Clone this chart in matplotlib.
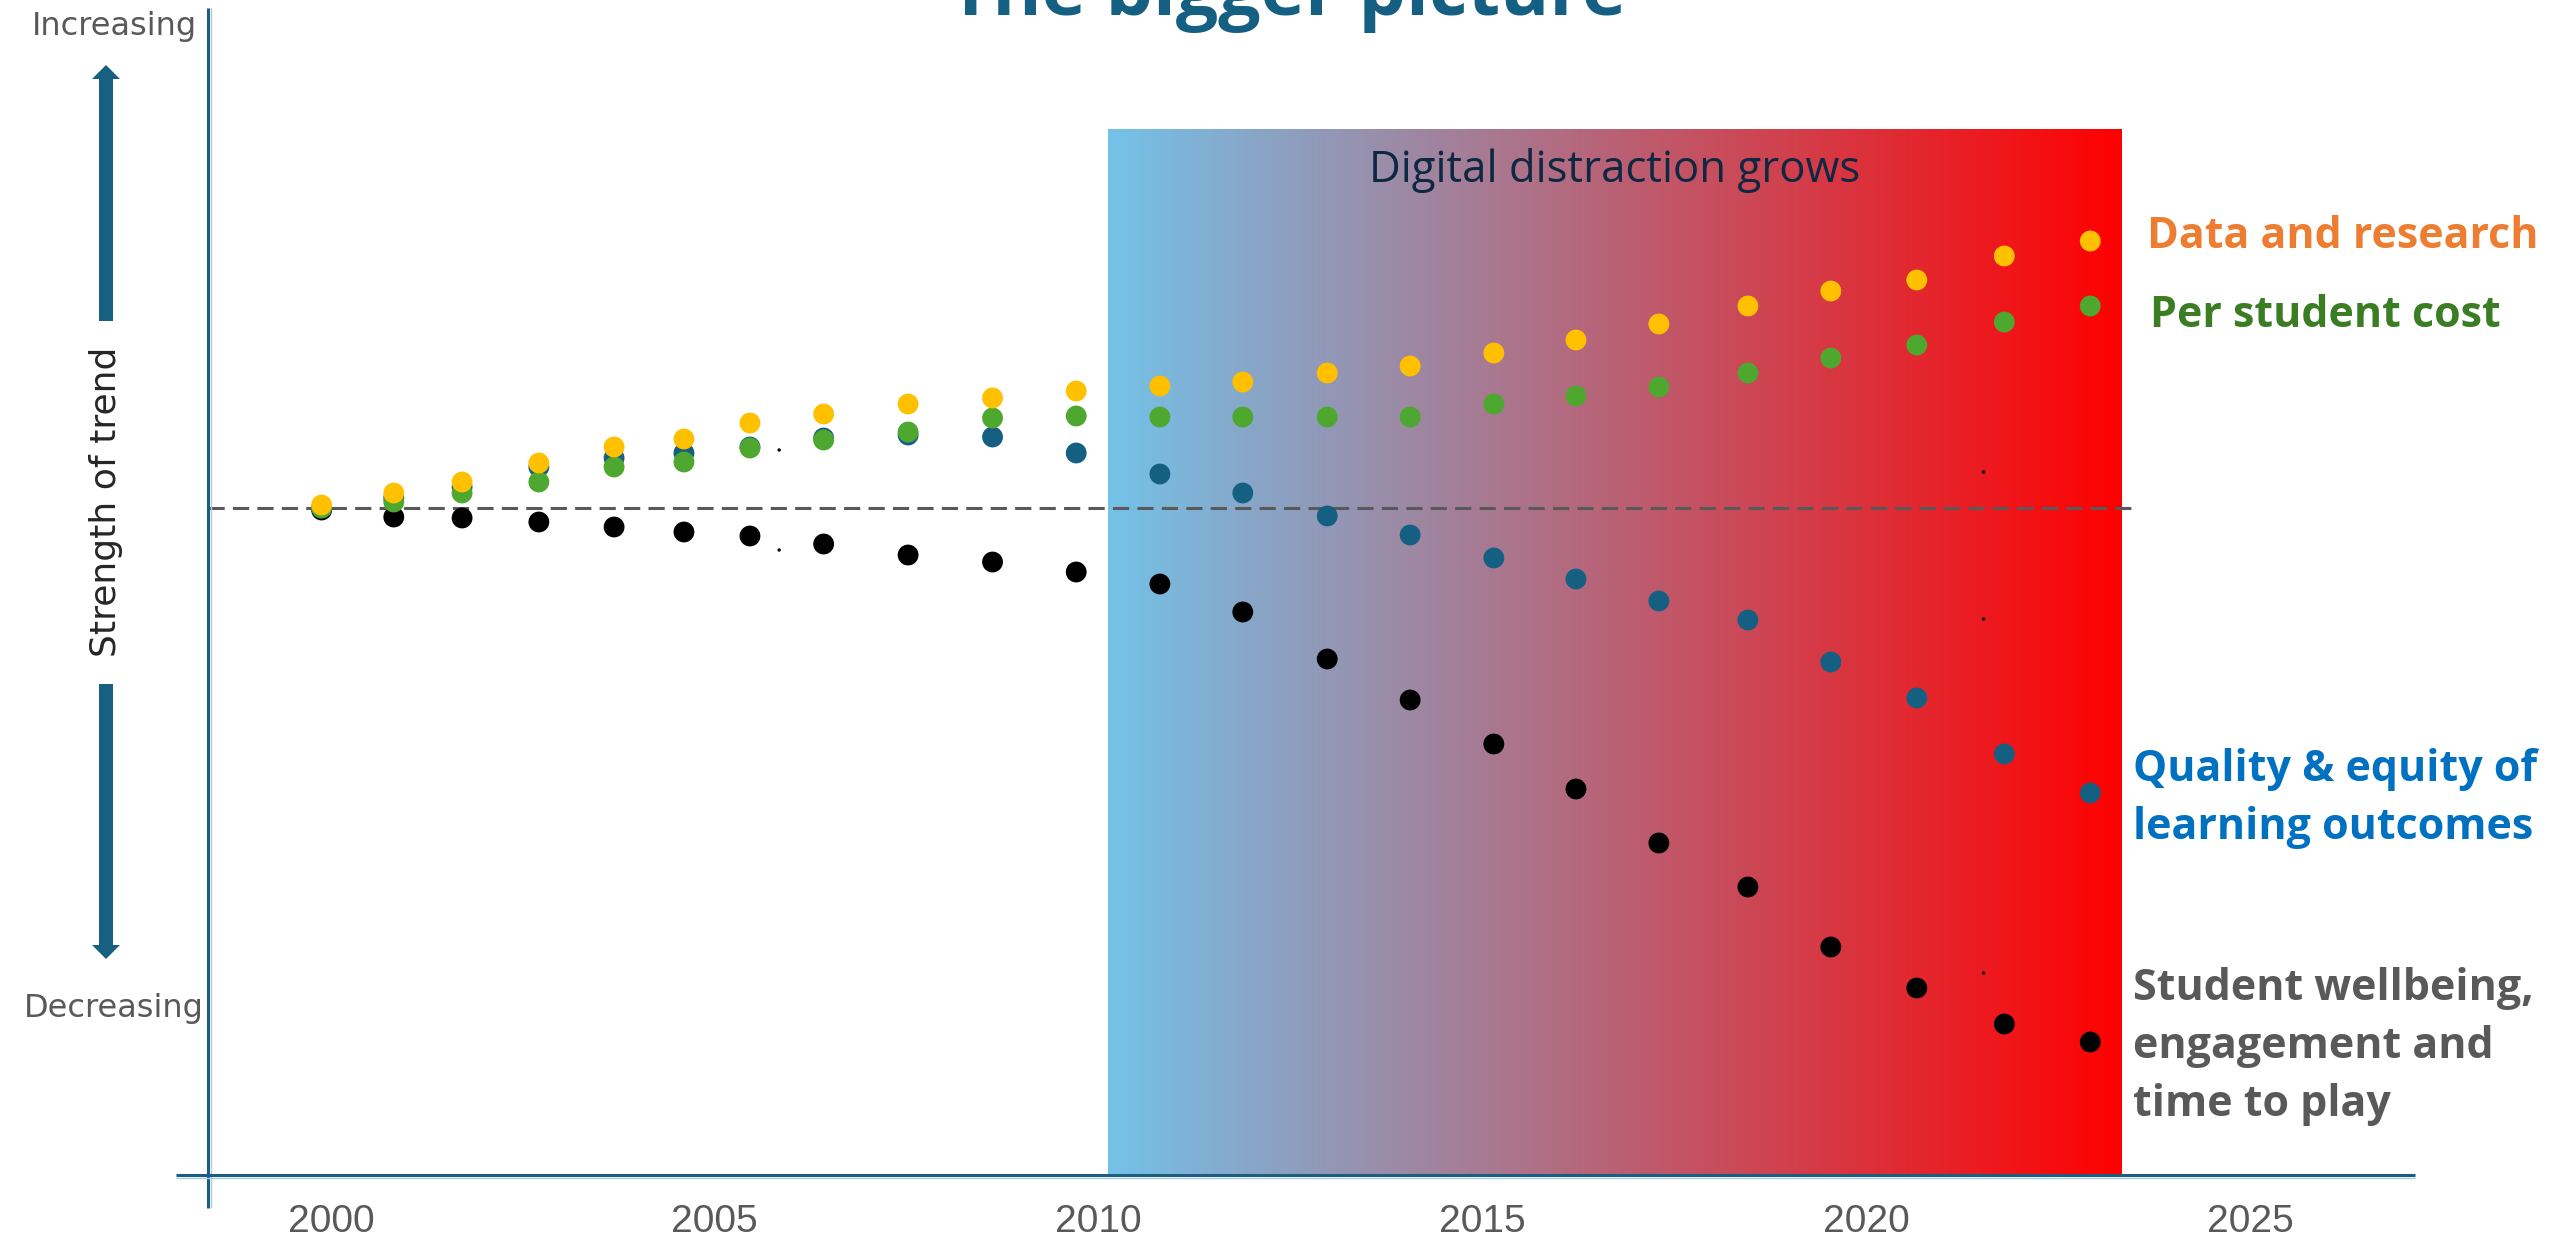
import matplotlib
matplotlib.use("Agg")
import matplotlib.pyplot as plt
import numpy as np
from matplotlib.patches import FancyArrow

# x positions of the dots (years)
dot_years = [1999.88, 2000.82, 2001.71, 2002.71, 2003.69, 2004.60, 2005.46, 2006.42,
             2007.52, 2008.62, 2009.71, 2010.80, 2011.88, 2012.98, 2014.06, 2015.15,
             2016.22, 2017.30, 2018.46, 2019.54, 2020.66, 2021.80, 2022.92]

# strength of trend (0 = dashed baseline)
data_research = [0.3, 1.5, 2.6, 4.5, 6.1, 6.9, 8.5, 9.4, 10.4, 11.0, 11.7, 12.2,
                 12.6, 13.5, 14.2, 15.5, 16.8, 18.4, 20.2, 21.7, 22.8, 25.2, 26.7]
per_student_cost = [0.0, 0.6, 1.5, 2.6, 4.1, 4.6, 6.0, 6.8, 7.6, 9.0, 9.2, 9.1,
                    9.1, 9.1, 9.1, 10.4, 11.2, 12.1, 13.5, 15.0, 16.3, 18.6, 20.2]
quality_equity = [0.0, 1.0, 2.1, 4.1, 5.0, 5.5, 6.1, 7.0, 7.3, 7.1, 5.5, 3.4,
                  1.5, -0.8, -2.7, -5.0, -7.1, -9.3, -11.2, -15.4, -19.0, -24.6, -28.5]
wellbeing = [-0.2, -0.9, -1.0, -1.4, -1.9, -2.4, -2.8, -3.6, -4.7, -5.4, -6.4, -7.6,
             -10.4, -15.1, -19.2, -23.6, -28.1, -33.5, -37.9, -43.9, -48.0, -51.6, -53.4]

# tiny stray specks in the original
stray_years = [2005.84, 2005.84, 2021.53, 2021.53, 2021.53]
stray_vals = [5.8, -4.2, 3.6, -11.1, -46.5]

# shaded period
distraction_start = 2010.12
distraction_end = 2023.32
distraction_top = 37.9

tick_years = [2000, 2005, 2010, 2015, 2020, 2025]

series_labels = ["Data and research", "Per student cost",
                 "Quality & equity of\nlearning outcomes",
                 "Student wellbeing,\nengagement and\ntime to play"]
label_colors = ["#ED7D31", "#3B7D23", "#0070C0", "#595959"]
dot_colors = ["#FFC000", "#4EA72E", "#156082", "#000000"]

W, H = 2552, 1246
fig = plt.figure(figsize=(W / 100, H / 100), dpi=100)

# main axes: pixel box x 208..2415, y 8..1175
ax = fig.add_axes([208 / W, 1 - 1175 / H, (2415 - 208) / W, (1175 - 8) / H])
ax.set_xlim(1998.40, 2027.15)
ax.set_ylim(-66.7, 50.0)
ax.patch.set_alpha(0)
for s in ax.spines.values():
    s.set_visible(False)
ax.set_yticks([])
ax.set_xticks(tick_years)
ax.set_xticklabels([str(t) for t in tick_years], fontsize=28,
                   family="Liberation Sans", color="#595959")
ax.tick_params(axis="x", length=0, pad=21)

# gradient block
c0 = np.array([116, 194, 233]) / 255
c1 = np.array([255, 0, 0]) / 255
t = np.linspace(0, 1, 512)[:, None]
grad = (c0 * (1 - t) + c1 * t)[None, :, :]
ax.imshow(grad, extent=[distraction_start, distraction_end, -66.7, distraction_top],
          aspect="auto", zorder=0, interpolation="bilinear")
ax.text((distraction_start + distraction_end) / 2, 32.6, "Digital distraction grows",
        ha="center", va="baseline", fontsize=31.5, family="Open Sans",
        color="#0E2841", zorder=1)

# dashed baseline
ax.hlines(0, 1998.40, 2023.46, colors="#595959", linewidth=2.2,
          linestyles=(0, (5.3, 2.7)), zorder=1.5)

series = [wellbeing, quality_equity, per_student_cost, data_research]
cols = [dot_colors[3], dot_colors[2], dot_colors[1], dot_colors[0]]
for z, (vals, c) in enumerate(zip(series, cols)):
    ax.scatter(dot_years, vals, s=225, color=c, edgecolors="none", zorder=2 + z)
ax.scatter(stray_years, stray_vals, s=6, color="#000000", edgecolors="none", zorder=6)

# overlay in pixel coordinates for annotations
ov = fig.add_axes([0, 0, 1, 1])
ov.set_xlim(0, W)
ov.set_ylim(H, 0)
ov.axis("off")

axis_col = "#1B5E80"
ov.plot([208, 208], [8, 1208], color=axis_col, linewidth=2.2, solid_capstyle="butt")
ov.plot([210.5, 210.5], [8, 1208], color="#A9CCE0", linewidth=1.0, solid_capstyle="butt")
ov.plot([176, 2415], [1175, 1175], color=axis_col, linewidth=2.2, solid_capstyle="butt")
ov.plot([176, 2415], [1177.5, 1177.5], color="#A9CCE0", linewidth=1.0, solid_capstyle="butt")

ov.add_patch(FancyArrow(106, 321, 0, -256, width=14, head_width=28, head_length=14,
                        length_includes_head=True, color="#17607F", linewidth=0))
ov.add_patch(FancyArrow(106, 684, 0, 275, width=14, head_width=28, head_length=14,
                        length_includes_head=True, color="#17607F", linewidth=0))

ov.text(114, 35, "Increasing", ha="center", va="baseline", fontsize=23,
        color="#595959", family="DejaVu Sans")
ov.text(114, 1017, "Decreasing", ha="center", va="baseline", fontsize=23,
        color="#595959", family="DejaVu Sans")
ov.text(106, 502, "Strength of trend", ha="center", va="center", rotation=90,
        fontsize=26, color="#262626", family="DejaVu Sans")

ov.text(1288, 15, "The bigger picture", ha="center", va="baseline", fontsize=54,
        fontweight="bold", color="#156082", family="Open Sans")

# series labels, one text per line with explicit baselines
label_pos = [(2147, 248), (2150, 327), (2133, 781), (2133, 1000)]
line_step = 58
for lab, col, (x, y) in zip(series_labels, label_colors, label_pos):
    for i, line in enumerate(lab.split("\n")):
        ov.text(x, y + i * line_step, line, ha="left", va="baseline", fontsize=31,
                fontweight="bold", color=col, family="Open Sans")

fig.savefig("out.png", dpi=100)
